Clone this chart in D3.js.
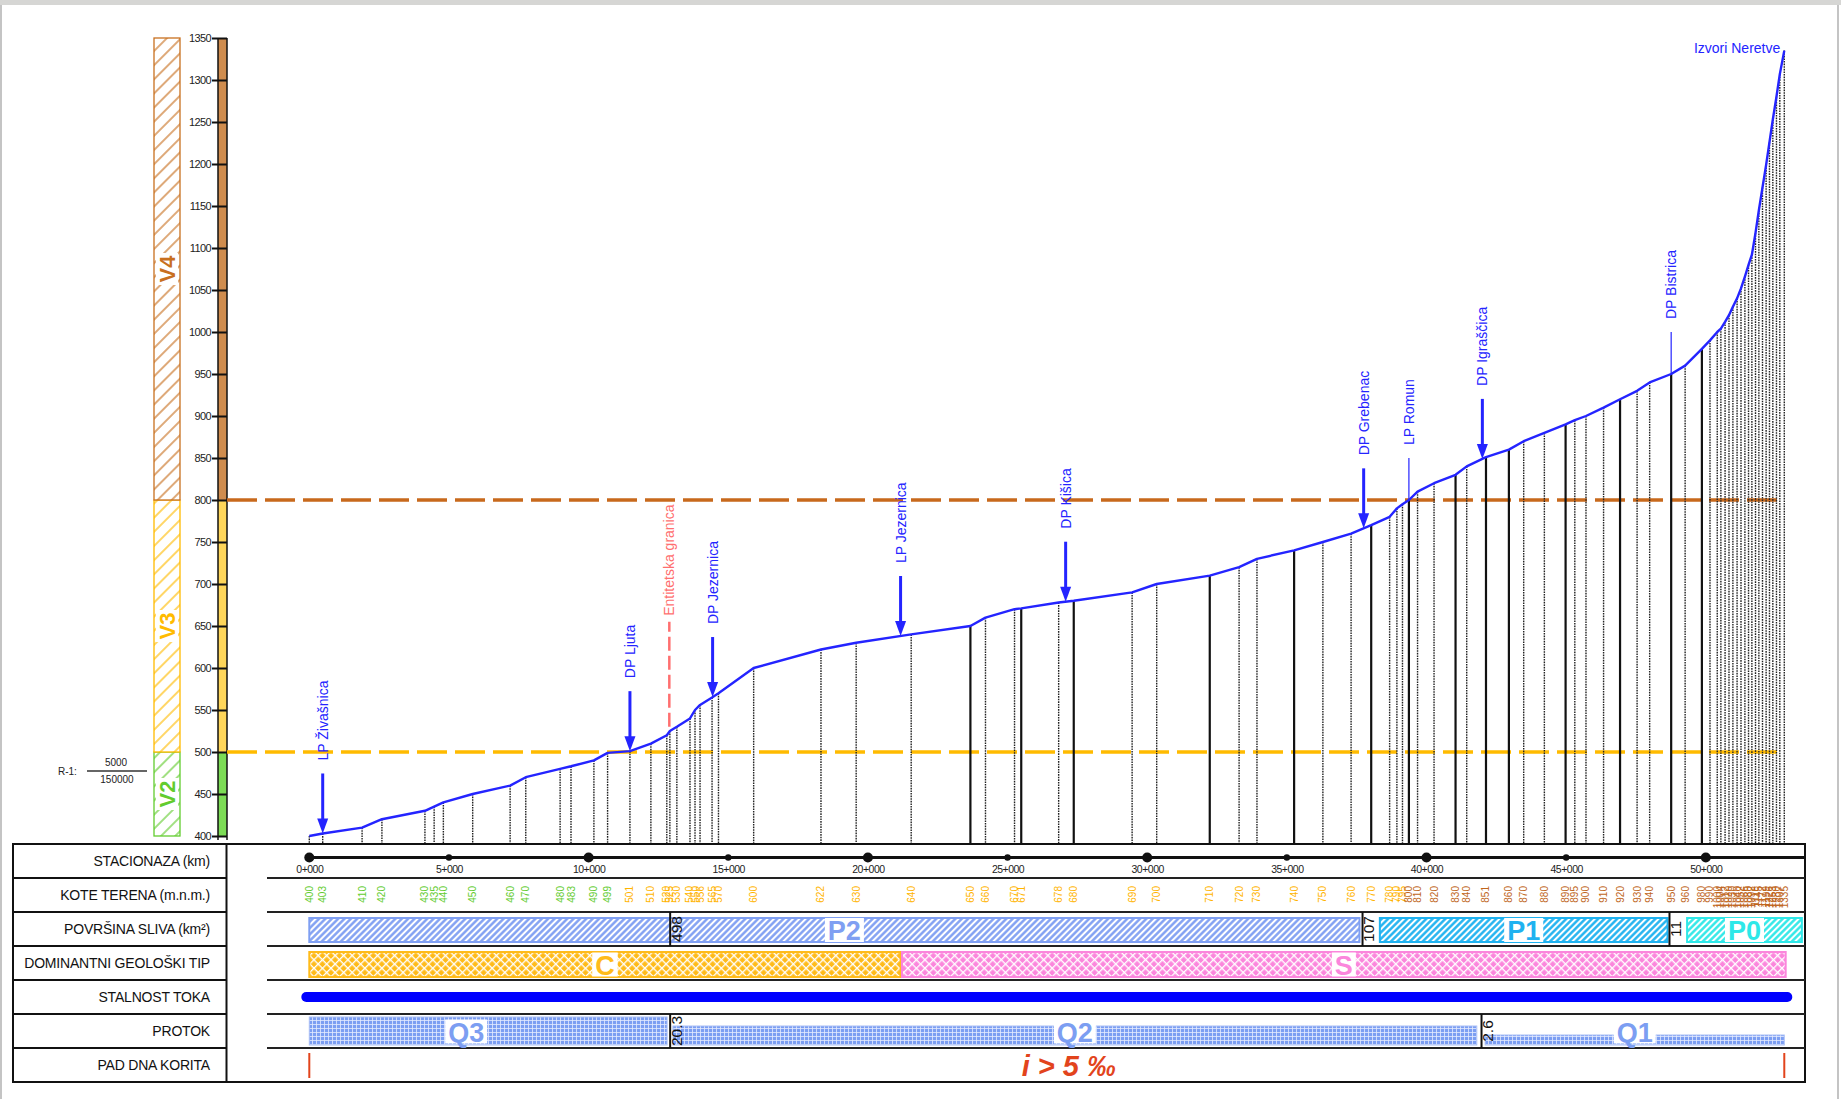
<!DOCTYPE html>
<html>
<head>
<meta charset="utf-8">
<script src="https://cdn.jsdelivr.net/npm/d3@7"></script>
<style>
  body { margin: 0; background: #fff; }
  svg { display: block; font-family: "Liberation Sans", Arial, sans-serif; }
</style>
</head>
<body>
<div id="profile"></div>
<script>

 // ===========================================================================================
 // data
 var stationKm = [0.00, 0.48, 1.89, 2.60, 4.14, 4.47, 4.80, 5.85, 7.19, 7.75,
     8.98, 9.37, 10.19, 10.68, 11.48, 12.23, 12.80, 12.91, 13.16, 13.63,
     13.81, 13.99, 14.42, 14.65, 15.91, 18.32, 19.58, 21.55, 23.67, 24.21,
     25.25, 25.49, 26.83, 27.37, 29.46, 30.34, 32.24, 33.29, 33.93, 35.26,
     36.29, 37.30, 38.02, 38.68, 38.94, 39.14, 39.37, 39.68, 40.27, 41.04,
     41.44, 42.13, 42.95, 43.48, 44.22, 44.98, 45.31, 45.71, 46.34, 46.93,
     47.54, 47.99, 48.76, 49.26, 49.86, 50.15, 50.41, 50.54, 50.69, 50.83,
     50.97, 51.12, 51.26, 51.40, 51.53, 51.65, 51.78, 51.90, 52.03, 52.16,
     52.28, 52.40, 52.53, 52.65, 52.81];

 var stationElev = [400, 403, 410, 420, 430, 435, 440, 450, 460, 470,
     480, 483, 490, 499, 501, 510, 520, 525, 530, 540,
     550, 556, 565, 570, 600, 622, 630, 640, 650, 660,
     670, 671, 678, 680, 690, 700, 710, 720, 730, 740,
     750, 760, 770, 780, 790, 795, 800, 810, 820, 830,
     840, 851, 860, 870, 880, 890, 895, 900, 910, 920,
     930, 940, 950, 960, 980, 990, 1000, 1004, 1012, 1020,
     1030, 1040, 1052, 1066, 1080, 1092, 1118, 1145, 1172, 1199,
     1226, 1253, 1280, 1307, 1335];

 // cross sections drawn as main (solid) lines
 var mainSectionKm = [23.67, 25.49, 27.37, 32.24, 35.26, 38.02, 39.37, 41.04,
     42.13, 42.95, 44.98, 46.93, 48.76, 49.86];

 // tributaries
 var tributaryNames = ['LP Živašnica', 'DP Ljuta', 'DP Jezernica', 'LP Jezernica', 'DP Kišica',
     'DP Grebenac', 'LP Romun', 'DP Igraščica', 'DP Bistrica'];
 var tributaryKm = [0.48, 11.48, 14.44, 21.17, 27.08, 37.75, 39.37, 42.00, 48.76];
 var tributaryArrow = [true, true, true, true, true, true, false, true, false];

 var borderName = 'Entitetska granica';
 var borderKm = 12.89;
 var sourceName = 'Izvori Neretve';

 // altitude zones
 var zoneNames = ['V2', 'V3', 'V4'];
 var zoneFrom = [400, 500, 800];
 var zoneTo = [500, 800, 1350];

 // table rows
 var rowLabels = ['STACIONAZA (km)', 'KOTE TERENA (m.n.m.)', 'POVRŠINA SLIVA (km²)',
     'DOMINANTNI GEOLOŠKI TIP', 'STALNOST TOKA', 'PROTOK', 'PAD DNA KORITA'];

 var areaCodes = ['P2', 'P1', 'P0'];
 var areaFrom = [0, 38.33, 49.33];
 var areaTo = [37.60, 48.63, 53.44];
 var areaSplitKm = [12.92, 37.71, 48.70];
 var areaSplitValue = ['498', '107', '11'];

 var geoCodes = ['C', 'S'];
 var geoFrom = [0, 21.22];
 var geoTo = [21.17, 52.86];

 var flowCodes = ['Q3', 'Q2', 'Q1'];
 var flowLevel = [3, 2, 1];
 var flowFrom = [0, 13.02, 42.10];
 var flowTo = [12.81, 41.80, 52.81];
 var flowSplitKm = [12.92, 41.97];
 var flowSplitValue = ['20.3', '2.6'];

 var permanentFrom = 0, permanentTo = 52.81;
 var slopeText = 'i > 5 ‰';
 var stationTicks = [0, 5, 10, 15, 20, 25, 30, 35, 40, 45, 50];
 var elevTicks = d3.range(400, 1351, 50);
 // ===========================================================================================

 var width = 1841, height = 1099;
 var blue = '#2424ff';
 var zoneColour = { V2: '#62cc2e', V3: '#ffbb00', V4: '#c8701f' };
 var zoneStrip = { V2: '#7cdc55', V3: '#ffd65a', V4: '#cf8c4e' };
 var areaColour = { P2: '#7f9ff2', P1: '#1fb2f0', P0: '#2ee8e8' };
 var geoColour = { C: '#ffbb1a', S: '#fb86dc' };
 var flowColour = '#7c9ef2';

 var x = d3.scaleLinear().domain([0, 50]).range([309.3, 1705.8]);
 var y = d3.scaleLinear().domain([400, 1350]).range([836, 38]);
 var elevAt = d3.scaleLinear().domain(stationKm).range(stationElev).clamp(true);

 var tableLeft = 13, tableRight = 1805, labelRight = 226.5, dataLeft = 267;
 var tableTop = 844, rowH = 34;
 function rowTop(i) { return tableTop + i * rowH; }

 var svg = d3.select('#profile').append('svg')
     .attr('width', width)
     .attr('height', height);

 // page frame like the scanned sheet
 svg.append('rect').attr('width', width).attr('height', 5).attr('fill', '#d6d6d4');
 svg.append('line').attr('x1', 1).attr('x2', 1).attr('y1', 5).attr('y2', height).attr('stroke', '#c4c4c4').attr('stroke-width', 2);
 svg.append('line').attr('x1', 1838).attr('x2', 1838).attr('y1', 5).attr('y2', height).attr('stroke', '#c4c4c4').attr('stroke-width', 2);

 // ===========================================================================================
 // patterns
 var defs = svg.append('defs');

 function hatch(id, bg, line, size, w) {
     var p = defs.append('pattern').attr('id', id)
         .attr('patternUnits', 'userSpaceOnUse')
         .attr('width', size).attr('height', size)
         .attr('patternTransform', 'rotate(45)');
     p.append('rect').attr('width', size).attr('height', size).attr('fill', bg);
     p.append('line').attr('x1', size / 2).attr('x2', size / 2).attr('y1', 0).attr('y2', size)
         .attr('stroke', line).attr('stroke-width', w);
 }

 function cross(id, bg) {
     var p = defs.append('pattern').attr('id', id)
         .attr('patternUnits', 'userSpaceOnUse')
         .attr('width', 6).attr('height', 6)
         .attr('patternTransform', 'rotate(45)');
     p.append('rect').attr('width', 6).attr('height', 6).attr('fill', bg);
     p.append('line').attr('x1', 0).attr('x2', 6).attr('y1', 0.6).attr('y2', 0.6).attr('stroke', '#fff').attr('stroke-width', 1.5);
     p.append('line').attr('x1', 0.6).attr('x2', 0.6).attr('y1', 0).attr('y2', 6).attr('stroke', '#fff').attr('stroke-width', 1.5);
 }

 function grid(id, bg) {
     var p = defs.append('pattern').attr('id', id)
         .attr('patternUnits', 'userSpaceOnUse')
         .attr('width', 4).attr('height', 4);
     p.append('rect').attr('width', 4).attr('height', 4).attr('fill', bg);
     p.append('line').attr('x1', 0).attr('x2', 4).attr('y1', 0.5).attr('y2', 0.5).attr('stroke', '#e4ebff').attr('stroke-width', 0.8);
     p.append('line').attr('x1', 0.5).attr('x2', 0.5).attr('y1', 0).attr('y2', 4).attr('stroke', '#e4ebff').attr('stroke-width', 0.8);
 }

 zoneNames.forEach(function(z) { hatch('zone' + z, '#fff', zoneColour[z], 10, 1.2); });
 areaCodes.forEach(function(c) { hatch('area' + c, '#fff', areaColour[c], 4.5, 2.4); });
 geoCodes.forEach(function(c) { cross('geo' + c, geoColour[c]); });
 grid('flow', flowColour);
 // ===========================================================================================

 // ===========================================================================================
 // altitude zone column and elevation axis
 var zones = svg.append('g').attr('class', 'zones');
 zoneNames.forEach(function(z, i) {
     var y0 = y(zoneTo[i]), y1 = y(zoneFrom[i]);
     zones.append('rect')
         .attr('x', 154).attr('y', y0).attr('width', 26).attr('height', y1 - y0)
         .attr('fill', 'url(#zone' + z + ')')
         .attr('stroke', zoneColour[z]).attr('stroke-width', 1.3);
     var cy = (y0 + y1) / 2;
     zones.append('rect')
         .attr('x', 156).attr('y', cy - 16).attr('width', 22).attr('height', 32)
         .attr('fill', '#fff');
     zones.append('text')
         .attr('transform', 'translate(175,' + cy + ') rotate(-90)')
         .attr('text-anchor', 'middle')
         .attr('font-size', 22).attr('font-weight', 'bold')
         .attr('fill', zoneColour[z])
         .text(z);
     // coloured strip inside the axis
     svg.append('rect')
         .attr('x', 218).attr('y', y0).attr('width', 9).attr('height', y1 - y0)
         .attr('fill', zoneStrip[z]);
 });

 svg.append('line').attr('x1', 218).attr('x2', 218).attr('y1', y(1350)).attr('y2', y(400) + 4)
     .attr('stroke', '#111').attr('stroke-width', 1.5);
 svg.append('line').attr('x1', 227).attr('x2', 227).attr('y1', y(1350)).attr('y2', y(400) + 4)
     .attr('stroke', '#111').attr('stroke-width', 1.5);

 var yAxis = svg.append('g')
     .attr('transform', 'translate(227,0)')
     .call(d3.axisLeft(y).tickValues(elevTicks).tickSize(15).tickPadding(1)
         .tickFormat(d3.format('d')));
 yAxis.select('.domain').remove();
 yAxis.selectAll('.tick line').attr('stroke', '#111').attr('stroke-width', 2);
 yAxis.selectAll('.tick text')
     .attr('font-family', '"Liberation Sans", Arial, sans-serif')
     .attr('font-size', 11).attr('fill', '#222')
     .attr('letter-spacing', -0.6);

 // scale note
 var note = svg.append('g').attr('font-size', 10).attr('fill', '#222');
 note.append('text').attr('x', 58).attr('y', 775).text('R-1:');
 note.append('line').attr('x1', 87).attr('x2', 147).attr('y1', 771).attr('y2', 771).attr('stroke', '#333').attr('stroke-width', 1.5);
 note.append('text').attr('x', 116).attr('y', 766).attr('text-anchor', 'middle').text('5000');
 note.append('text').attr('x', 117).attr('y', 783).attr('text-anchor', 'middle').text('150000');
 // ===========================================================================================

 // ===========================================================================================
 // zone boundaries
 [[800, '#c8691c'], [500, '#ffbb00']].forEach(function(b) {
     svg.append('line')
         .attr('x1', 227).attr('x2', x(stationKm[stationKm.length - 1]))
         .attr('y1', y(b[0])).attr('y2', y(b[0]))
         .attr('stroke', b[1]).attr('stroke-width', 3.5)
         .attr('stroke-dasharray', '30,8');
 });

 // cross section lines
 var sections = svg.append('g').attr('class', 'sections');
 stationKm.forEach(function(k, i) {
     var main = mainSectionKm.indexOf(k) >= 0;
     sections.append('line')
         .attr('x1', x(k)).attr('x2', x(k))
         .attr('y1', y(stationElev[i])).attr('y2', tableTop)
         .attr('stroke', main ? '#111' : '#222')
         .attr('stroke-width', main ? 2.2 : 1.4)
         .attr('stroke-dasharray', main ? null : '1.6,1');
 });

 // river bed profile
 var line = d3.line()
     .x(function(d) { return x(d[0]); })
     .y(function(d) { return y(d[1]); });
 svg.append('path')
     .datum(d3.zip(stationKm, stationElev))
     .attr('d', line)
     .attr('fill', 'none')
     .attr('stroke', blue)
     .attr('stroke-width', 2.4)
     .attr('stroke-linejoin', 'round');
 // ===========================================================================================

 // ===========================================================================================
 // tributaries, border and source labels
 var notes = svg.append('g').attr('class', 'tributaries');
 tributaryNames.forEach(function(name, i) {
     var px = x(tributaryKm[i]);
     var tip = y(elevAt(tributaryKm[i]));
     var top;
     if (tributaryArrow[i]) {
         top = tip - 60;
         notes.append('line').attr('x1', px).attr('x2', px).attr('y1', top).attr('y2', tip - 12)
             .attr('stroke', blue).attr('stroke-width', 3);
         notes.append('path')
             .attr('d', 'M' + (px - 5.5) + ',' + (tip - 15) + 'L' + (px + 5.5) + ',' + (tip - 15) + 'L' + px + ',' + tip + 'Z')
             .attr('fill', blue);
     } else {
         top = tip - 42;
         notes.append('line').attr('x1', px).attr('x2', px).attr('y1', top).attr('y2', tip)
             .attr('stroke', blue).attr('stroke-width', 1.2);
     }
     notes.append('text')
         .attr('transform', 'translate(' + (px + 5) + ',' + (top - 13) + ') rotate(-90)')
         .attr('font-size', 14)
         .attr('fill', blue)
         .text(name);
 });

 var bTip = y(elevAt(borderKm));
 svg.append('line')
     .attr('x1', x(borderKm)).attr('x2', x(borderKm))
     .attr('y1', bTip - 5).attr('y2', bTip - 110)
     .attr('stroke', '#ff6f6f').attr('stroke-width', 2.5)
     .attr('stroke-dasharray', '14,5');
 svg.append('text')
     .attr('transform', 'translate(' + (x(borderKm) + 5) + ',' + (bTip - 116) + ') rotate(-90)')
     .attr('font-size', 14)
     .attr('fill', '#ff6f6f')
     .text(borderName);

 var last = stationKm.length - 1;
 svg.append('text')
     .attr('x', x(stationKm[last]) - 4).attr('y', y(stationElev[last]) + 2)
     .attr('text-anchor', 'end')
     .attr('font-size', 14)
     .attr('fill', blue)
     .text(sourceName);
 // ===========================================================================================

 // ===========================================================================================
 // table frame
 var table = svg.append('g').attr('class', 'table');
 table.append('rect')
     .attr('x', tableLeft).attr('y', tableTop)
     .attr('width', tableRight - tableLeft).attr('height', rowH * 7)
     .attr('fill', 'none').attr('stroke', '#111').attr('stroke-width', 2);
 table.append('line').attr('x1', labelRight).attr('x2', labelRight)
     .attr('y1', tableTop).attr('y2', tableTop + rowH * 7)
     .attr('stroke', '#111').attr('stroke-width', 2);
 d3.range(1, 7).forEach(function(i) {
     table.append('line').attr('x1', tableLeft).attr('x2', labelRight)
         .attr('y1', rowTop(i)).attr('y2', rowTop(i)).attr('stroke', '#111').attr('stroke-width', 2);
     table.append('line').attr('x1', dataLeft).attr('x2', tableRight)
         .attr('y1', rowTop(i)).attr('y2', rowTop(i)).attr('stroke', '#222').attr('stroke-width', 2);
 });
 rowLabels.forEach(function(l, i) {
     table.append('text')
         .attr('x', 210).attr('y', rowTop(i) + rowH / 2 + 5)
         .attr('text-anchor', 'end')
         .attr('font-size', 14).attr('fill', '#111')
         .attr('letter-spacing', -0.2)
         .text(l);
 });

 // stationing
 var st = rowTop(0) + 13.5;
 table.append('line').attr('x1', x(0)).attr('x2', tableRight).attr('y1', st).attr('y2', st)
     .attr('stroke', '#111').attr('stroke-width', 3);
 table.selectAll('circle.st').data(stationTicks).enter().append('circle')
     .attr('cx', function(d) { return x(d); }).attr('cy', st)
     .attr('r', function(d) { return d % 10 === 0 ? 5 : 3.2; })
     .attr('fill', '#111');
 var sAxis = table.append('g')
     .attr('transform', 'translate(0,' + (st + 5) + ')')
     .call(d3.axisBottom(x).tickValues(stationTicks).tickSize(0).tickPadding(3)
         .tickFormat(function(d) { return d + '+000'; }));
 sAxis.select('.domain').remove();
 sAxis.selectAll('text')
     .attr('font-family', '"Liberation Sans", Arial, sans-serif')
     .attr('font-size', 10.5).attr('fill', '#222').attr('letter-spacing', -0.5);

 // terrain elevations
 function koteColour(e) { return e < 500 ? '#62cc2e' : (e < 800 ? '#ffb400' : '#c0661c'); }
 stationKm.forEach(function(k, i) {
     table.append('text')
         .attr('transform', 'translate(' + (x(k) + 3.5) + ',' + (rowTop(1) + 8) + ') rotate(-90)')
         .attr('text-anchor', 'end')
         .attr('font-size', 10)
         .attr('fill', koteColour(stationElev[i]))
         .text(stationElev[i]);
 });

 // white boxed label inside a bar
 function barLabel(cx, cy, txt, colour) {
     var t = table.append('text')
         .attr('x', cx).attr('y', cy + 10)
         .attr('text-anchor', 'middle')
         .attr('font-size', 27).attr('font-weight', 'bold')
         .attr('fill', colour)
         .text(txt);
     var bb = t.node().getBBox();
     table.insert('rect', function() { return t.node(); })
         .attr('x', bb.x - 3).attr('y', cy - 12).attr('width', bb.width + 6).attr('height', 24)
         .attr('fill', '#fff');
 }

 function split(k, r, txt) {
     table.append('line').attr('x1', x(k)).attr('x2', x(k))
         .attr('y1', rowTop(r)).attr('y2', rowTop(r + 1))
         .attr('stroke', '#111').attr('stroke-width', 2);
     table.append('text')
         .attr('transform', 'translate(' + (x(k) + 11.5) + ',' + (rowTop(r) + rowH / 2) + ') rotate(-90)')
         .attr('text-anchor', 'middle')
         .attr('font-size', 15.5).attr('fill', '#111')
         .text(txt);
 }

 // basin area
 areaCodes.forEach(function(c, i) {
     table.append('rect')
         .attr('x', x(areaFrom[i])).attr('y', rowTop(2) + 6)
         .attr('width', x(areaTo[i]) - x(areaFrom[i])).attr('height', 24)
         .attr('fill', 'url(#area' + c + ')')
         .attr('stroke', areaColour[c]).attr('stroke-width', 2);
     barLabel((x(areaFrom[i]) + x(areaTo[i])) / 2 + (i === 0 ? 10 : 0), rowTop(2) + 18, c, areaColour[c]);
 });
 areaSplitKm.forEach(function(k, i) { split(k, 2, areaSplitValue[i]); });

 // geology
 geoCodes.forEach(function(c, i) {
     table.append('rect')
         .attr('x', x(geoFrom[i])).attr('y', rowTop(3) + 6)
         .attr('width', x(geoTo[i]) - x(geoFrom[i])).attr('height', 25)
         .attr('fill', 'url(#geo' + c + ')')
         .attr('stroke', geoColour[c]).attr('stroke-width', 2);
     barLabel((x(geoFrom[i]) + x(geoTo[i])) / 2, rowTop(3) + 18.5, c, geoColour[c]);
 });

 // permanence of flow
 table.append('line')
     .attr('x1', x(permanentFrom) - 3).attr('x2', x(permanentTo) + 3)
     .attr('y1', rowTop(4) + rowH / 2).attr('y2', rowTop(4) + rowH / 2)
     .attr('stroke', '#0000ff').attr('stroke-width', 10)
     .attr('stroke-linecap', 'round');

 // discharge
 flowCodes.forEach(function(c, i) {
     var h = flowLevel[i] * 9 + 1;
     var bottom = rowTop(5) + 31;
     table.append('rect')
         .attr('x', x(flowFrom[i])).attr('y', bottom - h)
         .attr('width', x(flowTo[i]) - x(flowFrom[i])).attr('height', h)
         .attr('fill', 'url(#flow)')
         .attr('stroke', '#a9bff6').attr('stroke-width', 1);
     barLabel((x(flowFrom[i]) + x(flowTo[i])) / 2 - (i === 0 ? 22 : 0), rowTop(5) + 17.5, c, flowColour);
 });
 flowSplitKm.forEach(function(k, i) { split(k, 5, flowSplitValue[i]); });

 // bed slope
 [0, stationKm[last]].forEach(function(k) {
     table.append('line').attr('x1', x(k)).attr('x2', x(k))
         .attr('y1', rowTop(6) + 5).attr('y2', rowTop(6) + 30)
         .attr('stroke', '#e2441c').attr('stroke-width', 2);
 });
 var slope = table.append('text')
     .attr('x', (x(0) + x(stationKm[last])) / 2 + 22).attr('y', rowTop(6) + 28)
     .attr('text-anchor', 'middle')
     .attr('font-size', 29).attr('font-weight', 'bold').attr('font-style', 'italic')
     .attr('fill', '#e2441c');
 slope.text(slopeText);
 // ===========================================================================================

</script>
</body>
</html>
